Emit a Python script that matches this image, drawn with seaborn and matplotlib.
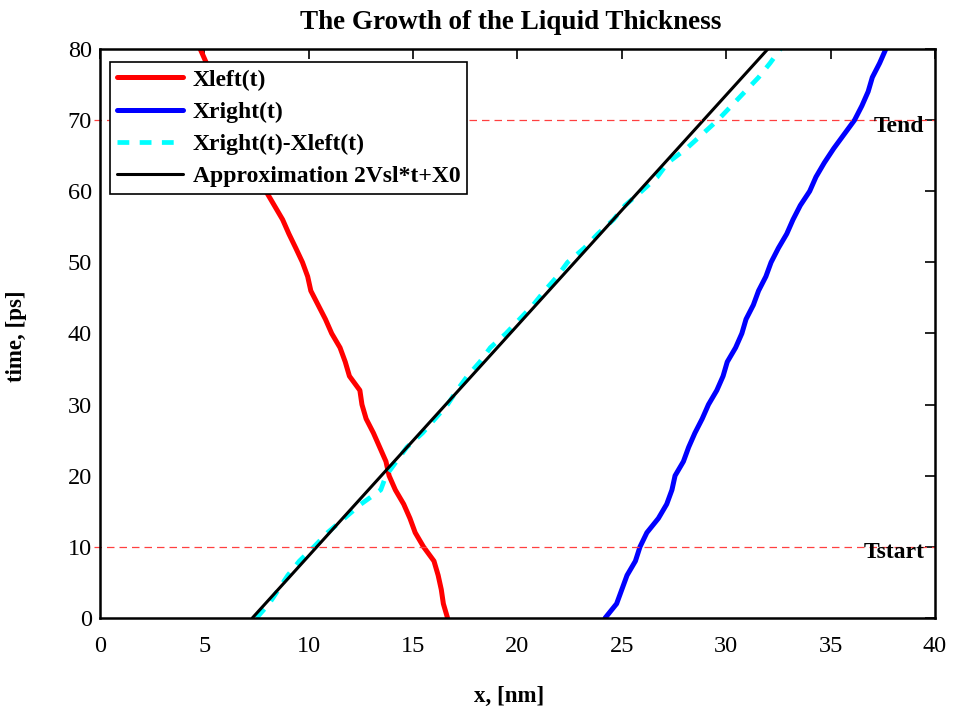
import numpy as np
import pandas as pd
import seaborn as sns
import matplotlib.pyplot as plt

# tempo em ps (amostrado a cada 2 ps)
t_ps = list(range(0, 82, 2))

x_left = [16.65, 16.45, 16.35, 16.2, 16.0, 15.5, 15.1, 14.85, 14.55, 14.15,
          13.85, 13.7, 13.4, 13.1, 12.75, 12.55, 12.45, 11.95, 11.75, 11.5,
          11.1, 10.8, 10.45, 10.1, 9.95, 9.7, 9.38, 9.05, 8.75, 8.35,
          7.95, 7.6, 7.25, 6.95, 6.6, 6.3, 6.0, 5.7, 5.4, 5.1, 4.8]

x_right = [24.2, 24.75, 25.0, 25.25, 25.65, 25.87, 26.2, 26.75, 27.15, 27.4,
           27.55, 27.95, 28.2, 28.5, 28.85, 29.15, 29.55, 29.85, 30.05, 30.45,
           30.75, 30.95, 31.3, 31.55, 31.9, 32.15, 32.5, 32.9, 33.2, 33.55,
           34.0, 34.3, 34.7, 35.15, 35.65, 36.15, 36.5, 36.8, 37.0, 37.35, 37.65]

x_diff = [7.5, 8.1, 8.55, 9.0, 9.55, 10.25, 10.9, 11.7, 12.5, 13.45,
          13.7, 14.2, 14.7, 15.45, 16.05, 16.65, 17.1, 17.6, 18.2, 18.7,
          19.45, 20.1, 20.75, 21.3, 21.9, 22.4, 23.2, 23.85, 24.6, 25.15,
          25.95, 26.7, 27.2, 28.1, 28.85, 29.6, 30.25, 30.9, 31.55, 32.1, 32.6]

# aproximacao 2Vsl*t+X0 (extremos da reta)
approx_t = [0, 80]
approx_x = [7.3, 32.0]

t_start = 10
t_end = 70

dados = pd.DataFrame({'t': t_ps, 'Xleft': x_left, 'Xright': x_right, 'Xdiff': x_diff})
aprox = pd.DataFrame({'t': approx_t, 'x': approx_x})

sns.set_theme(style='white')
plt.rcParams['font.family'] = ['Liberation Serif', 'DejaVu Serif']
plt.rcParams['xtick.direction'] = 'in'
plt.rcParams['ytick.direction'] = 'in'
for k in ['text.color', 'axes.labelcolor', 'xtick.color', 'ytick.color']:
    plt.rcParams[k] = 'black'

fig = plt.figure(figsize=(9.55, 7.09), dpi=100)
ax = fig.add_axes([0.1047, 0.1284, 0.8743, 0.8026])

sns.lineplot(data=dados, x='Xleft', y='t', sort=False, estimator=None, color='#ff0000',
             linewidth=3.6, label='Xleft(t)', ax=ax)
sns.lineplot(data=dados, x='Xright', y='t', sort=False, estimator=None, color='#0000ff',
             linewidth=3.6, label='Xright(t)', ax=ax)
sns.lineplot(data=dados, x='Xdiff', y='t', sort=False, estimator=None, color='#00ffff',
             linewidth=3.4, linestyle=(0, (2.5, 2.2)), label='Xright(t)-Xleft(t)', ax=ax)
sns.lineplot(data=aprox, x='x', y='t', sort=False, estimator=None, color='black',
             linewidth=2.2, label='Approximation 2Vsl*t+X0', ax=ax)

for tt in [t_start, t_end]:
    ax.hlines(tt, -0.3, 40, color='#ff4040', linestyle=(0, (6, 4)), linewidth=0.9, clip_on=False)
ax.text(39.5, t_end - 0.9, 'Tend', ha='right', va='center', fontsize=17, fontweight='bold')
ax.text(39.5, t_start - 0.8, 'Tstart', ha='right', va='center', fontsize=17, fontweight='bold')

ax.set_xlim(0, 40)
ax.set_ylim(0, 80)
ax.set_xticks(range(0, 45, 5))
ax.set_yticks(range(0, 90, 10))
ax.tick_params(axis='both', which='both', top=True, right=True, length=7, width=1.2,
               labelsize=17.5, color='black')
ax.tick_params(axis='x', pad=13)
ax.tick_params(axis='y', pad=6)
for s in ax.spines.values():
    s.set_color('black')
    s.set_linewidth(1.8)

ax.set_title('The Growth of the Liquid Thickness', fontsize=19.5, fontweight='bold', pad=14, x=0.492)
ax.set_xlabel('x, [nm]', fontsize=16.5, fontweight='bold')
ax.set_ylabel('time, [ps]', fontsize=16.5, fontweight='bold')
ax.xaxis.set_label_coords(0.49, -0.119)
ax.yaxis.set_label_coords(-0.087, 0.495)

leg = ax.legend(loc='upper left', bbox_to_anchor=(0.012, 0.977), borderaxespad=0,
                fancybox=False, framealpha=1, edgecolor='black',
                prop={'weight': 'bold', 'size': 17}, handlelength=2.8, labelspacing=0.45,
                borderpad=0.3, handletextpad=0.4)
leg.get_frame().set_linewidth(1.2)

plt.savefig('out.png', dpi=100)
